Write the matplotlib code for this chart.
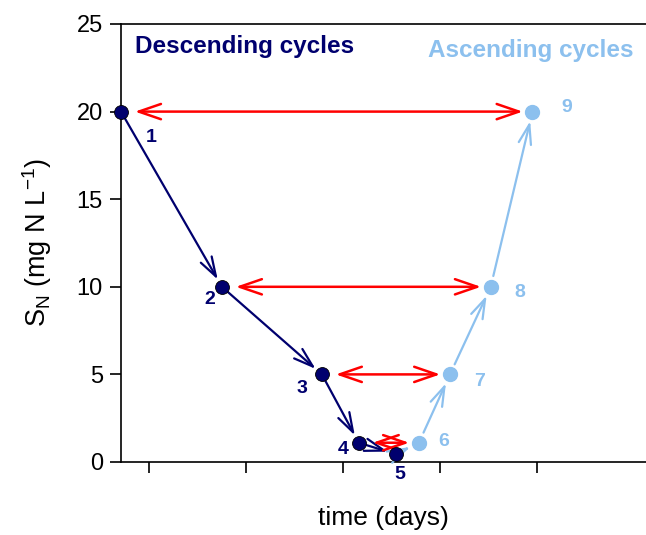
import matplotlib
matplotlib.use("Agg")
import matplotlib.pyplot as plt

plt.rcParams["font.family"] = ["Liberation Sans", "DejaVu Sans"]
plt.rcParams["mathtext.fontset"] = "custom"
plt.rcParams["mathtext.rm"] = "Liberation Sans"

# ---------------------------------------------------------------------------
# data
# ---------------------------------------------------------------------------
desc_labels = ["1", "2", "3", "4", "5"]
desc_time = [0.71, 1.75, 2.78, 3.16, 3.54]
desc_sn = [20, 10, 5, 1.1, 0.45]

asc_labels = ["6", "7", "8", "9"]
asc_time = [3.78, 4.10, 4.52, 4.95]
asc_sn = [1.1, 5, 10, 20]

# pairs joined by red double arrows: (descending index, ascending index)
pairs = [(0, 3), (1, 2), (2, 1), (3, 0)]

navy = "#00006e"
light = "#8cc0ee"
red = "#ff0000"

fig = plt.figure(figsize=(6.46, 5.35), dpi=100)
ax = fig.add_axes([121 / 646, 1 - 462 / 535, 525 / 646, 438 / 535])

ax.set_xlim(0.71, 6.12)
ax.set_ylim(0, 25)

head = "->,head_length=1.4,head_width=0.45"

# descending arrows
for i in range(len(desc_time) - 1):
    ax.annotate("", xy=(desc_time[i + 1], desc_sn[i + 1]), xytext=(desc_time[i], desc_sn[i]),
                arrowprops=dict(arrowstyle=head, color=navy, lw=1.6,
                                shrinkA=5, shrinkB=6))

# ascending arrows (from point 5 up through 6..9)
up_x = [desc_time[-1]] + asc_time
up_y = [desc_sn[-1]] + asc_sn
for i in range(len(up_x) - 1):
    ax.annotate("", xy=(up_x[i + 1], up_y[i + 1]), xytext=(up_x[i], up_y[i]),
                arrowprops=dict(arrowstyle=head, color=light, lw=1.6,
                                shrinkA=8, shrinkB=7))

# red double arrows
for d, a in pairs:
    ax.annotate("", xy=(asc_time[a], asc_sn[a]), xytext=(desc_time[d], desc_sn[d]),
                arrowprops=dict(arrowstyle="<->,head_length=1.6,head_width=0.55",
                                color=red, lw=1.8, shrinkA=10, shrinkB=7))

ax.plot(desc_time, desc_sn, "o", color=navy, markersize=10, mec="black", mew=0.6,
        zorder=5, clip_on=False)
ax.plot(asc_time, asc_sn, "o", color=light, markersize=10, mec=light,
        zorder=5, clip_on=False)

# point numbers
desc_off = [(22, -19), (-9, -9), (-14, -10), (-11, -5), (3, -15)]
for lab, x, y, (dx, dy) in zip(desc_labels, desc_time, desc_sn, desc_off):
    ax.annotate(lab, (x, y), xytext=(dx, dy), textcoords="offset points",
                ha="center", va="center", color=navy, fontsize=14, fontweight="bold")
asc_off = [(18, 1), (21, -5), (21, -4), (25, 3)]
for lab, x, y, (dx, dy) in zip(asc_labels, asc_time, asc_sn, asc_off):
    ax.annotate(lab, (x, y), xytext=(dx, dy), textcoords="offset points",
                ha="center", va="center", color=light, fontsize=14, fontweight="bold")

ax.text(135 / 646, 1 - 46 / 535, "Descending cycles", transform=fig.transFigure,
        color=navy, fontsize=17.5, fontweight="bold", va="center", ha="left")
ax.text(634 / 646, 1 - 50 / 535, "Ascending cycles", transform=fig.transFigure,
        color=light, fontsize=17.5, fontweight="bold", va="center", ha="right")

ax.set_xticks([1, 2, 3, 4, 5])
ax.set_xticklabels([])
ax.set_yticks([0, 5, 10, 15, 20, 25])
ax.tick_params(axis="y", labelsize=17, length=8, width=1.2, direction="out", pad=5)
ax.tick_params(axis="x", length=8, width=1.2, direction="out")
ax.spines["right"].set_visible(False)
for s in ["left", "bottom", "top"]:
    ax.spines[s].set_linewidth(1.2)

ax.set_xlabel("time (days)", fontsize=19, labelpad=20)
ax.set_ylabel(r"S$_{\mathregular{N}}$ (mg N L$^{\mathregular{-1}}$)", fontsize=19.5, labelpad=16)

fig.savefig("out.png", dpi=100)
